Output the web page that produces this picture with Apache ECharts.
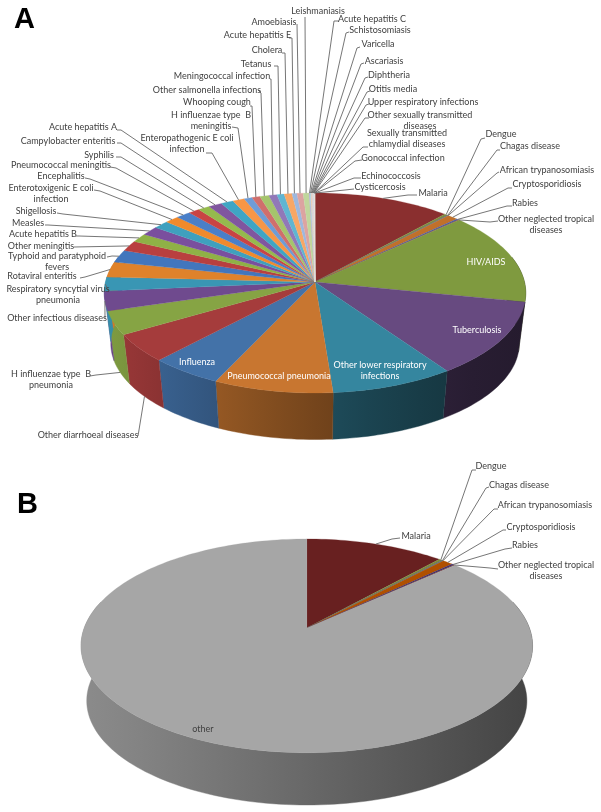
<!DOCTYPE html>
<html lang="en">
<head>
    <meta charset="UTF-8">
    <title>Infectious disease burden</title>
    <script src="https://cdn.jsdelivr.net/npm/echarts@6/dist/echarts.min.js"></script>
    <style>
        html, body { margin: 0; padding: 0; background: #fff; }
        #main { width: 601px; height: 812px; }
    </style>
</head>
<body>
<div id="main"></div>
<script>
    // shares of the pie, clockwise from 12 o'clock
    var namesA = ['Malaria', 'Dengue', 'Chagas disease', 'African trypanosomiasis', 'Cryptosporidiosis', 'Rabies',
        'Other neglected tropical\ndiseases', 'HIV/AIDS', 'Tuberculosis', 'Other lower respiratory\ninfections',
        'Pneumococcal pneumonia', 'Influenza', 'Other diarrhoeal diseases', 'H influenzae type  B\npneumonia',
        'Other infectious diseases', 'Respiratory syncytial virus\npneumonia', 'Rotaviral enteritis',
        'Typhoid and paratyphoid\nfevers', 'Other meningitis', 'Acute hepatitis B', 'Measles', 'Shigellosis',
        'Enterotoxigenic E coli\ninfection', 'Encephalitis', 'Pneumococcal meningitis', 'Syphilis',
        'Campylobacter enteritis', 'Acute hepatitis A', 'Enteropathogenic E coli\ninfection',
        'H influenzae type  B\nmeningitis', 'Whooping cough', 'Other salmonella infections',
        'Meningococcal infection', 'Tetanus', 'Cholera', 'Acute hepatitis E', 'Amoebiasis', 'Leishmaniasis',
        'Acute hepatitis C', 'Schistosomiasis', 'Varicella', 'Ascariasis', 'Diphtheria', 'Otitis media',
        'Upper respiratory infections', 'Other sexually transmitted\ndiseases',
        'Sexually transmitted\nchlamydial diseases', 'Gonococcal infection', 'Echinococcosis', 'Cysticercosis'];
    var valuesA = [11.67, 0.3, 0.05, 0.05, 0.9, 0.2, 0.08, 14.9, 12.1, 8.5, 8.25, 5, 4.55, 3.83, 3.14, 2.25, 2.5, 2.06,
        1.69, 1.44, 1.47, 1.33, 1.19, 1.25, 0.95, 1, 1.17, 1.06, 1, 0.69, 0.69, 0.78, 0.69, 0.61, 0.67, 0.42, 0.53, 0.5,
        0.08, 0.08, 0.06, 0.05, 0.05, 0.04, 0.04, 0.03, 0.03, 0.02, 0.01, 0.01];

    var namesB = ['Malaria', 'Dengue', 'Chagas disease', 'African trypanosomiasis', 'Cryptosporidiosis', 'Rabies',
        'Other neglected tropical\ndiseases', 'other'];
    var valuesB = [11.67, 0.3, 0.05, 0.05, 0.9, 0.2, 0.08, 86.75];

    var colorsA = ['#8a2f2f', '#7d8f40', '#66497f', '#3f8aa3', '#c0702a', '#4a5f9f', '#8a4040', '#7f9a3f', '#674a80',
        '#35869f', '#c87630', '#4372a8', '#a53c3c', '#86a444', '#6f4a8e', '#3996b4', '#df822b', '#4276bd', '#b93f3f',
        '#8fb146', '#7a4f9e', '#3fa0be', '#f08a2c', '#4a7fc8', '#c94444', '#95ba4d', '#80569f', '#3fa5c4', '#f79646',
        '#6e9cd6', '#d06e6c', '#a5c46c', '#9178b8', '#5fb5d2', '#f8a765', '#9db8de', '#dca3a1', '#c0d69c', '#b7abd0',
        '#a6d3e2', '#fbc69c', '#c4d3ea', '#e8c8c8', '#d9e4c8', '#d2cbe0', '#cfe4ec', '#fbdcc6', '#dce3ef', '#ede0df',
        '#dde3d4'];
    var colorsB = ['#682020', '#7d8a3c', '#5a4a7a', '#3f7a90', '#b05000', '#3c2d6e', '#6a3030', '#a6a6a6'];

    // pie geometry: perspective ellipse for the top face and for the base
    var geomA = { cx: 315, top: { y: 282, ax: 209.5, ay: 98.8 }, base: { y: 333, ax: 203, ay: 94.8 }, k: 0.11, shadeL: 0.95, shadeR: 0.36, gamma: 1.4 };
    var geomB = { cx: 306.8, top: { y: 628, ax: 222.6, ay: 103.9 }, base: { y: 683.4, ax: 217, ay: 101.3 }, k: 0.167, shadeL: 0.84, shadeR: 0.41, gamma: 1 };

    // label centre, leader from the text to the slice (the last point comes from the slice itself)
    var labelsA = [
        { at: [433, 193], lead: [[417, 195], [408, 195]] },
        { at: [501, 134], lead: [[485, 138], [481, 139]] },
        { at: [530, 146], lead: [[500, 150], [497, 150]] },
        { at: [547, 170], lead: [[499, 172], [497, 173]] },
        { at: [547, 184], lead: [[512, 188], [508, 188]] },
        { at: [525, 203], lead: [[512, 206], [507, 206]] },
        { at: [546, 225], lead: [[498, 221], [490, 222]] },
        { at: [486, 262], white: true },
        { at: [477, 330], white: true },
        { at: [380, 371], white: true },
        { at: [279, 376], white: true },
        { at: [197, 362], white: true },
        { at: [88, 435], lead: [[138, 436]], base: true },
        { at: [51, 380], lead: [[90, 376], [96, 375]], base: true },
        { at: [57, 318], lead: [[105, 318]] },
        { at: [58, 295], lead: [[109, 291]] },
        { at: [42, 276], lead: [[80, 278], [85, 277]] },
        { at: [57, 262], lead: [[107, 257], [112, 256]] },
        { at: [41, 246], lead: [[74, 247]] },
        { at: [43, 234], lead: [[76, 236], [79, 236]] },
        { at: [28, 223], lead: [[45, 225], [48, 225]] },
        { at: [36, 211], lead: [[57, 213], [63, 214]] },
        { at: [51, 194], lead: [[94, 190], [100, 191]] },
        { at: [61, 176], lead: [[85, 178], [90, 179]] },
        { at: [61, 165], lead: [[110, 167], [116, 168]] },
        { at: [99, 155], lead: [[116, 157], [121, 157]] },
        { at: [68, 141], lead: [[117, 143], [121, 143]] },
        { at: [83, 127], lead: [[117, 130], [121, 130]] },
        { at: [187, 144], lead: [[206, 153], [212, 153]] },
        { at: [211, 121], lead: [[232, 127], [238, 128]] },
        { at: [217, 102], lead: [[250, 106], [252, 106]] },
        { at: [207, 90], lead: [[258, 90], [261, 93]] },
        { at: [222, 76.5], lead: [[270, 79], [271, 79]] },
        { at: [256, 64], lead: [[274, 66], [278, 66]] },
        { at: [267, 50], lead: [[282, 53], [285, 53]] },
        { at: [257.5, 35], lead: [[289, 38], [292, 38]] },
        { at: [274, 22], lead: [[297, 24]] },
        { at: [318, 11], lead: [[305, 17]] },
        { at: [372, 19], lead: [[339, 21], [334, 21]] },
        { at: [380, 30], lead: [[349, 32], [346, 33]] },
        { at: [378, 44.5], lead: [[360, 47], [357, 48]] },
        { at: [384, 61], lead: [[364, 63], [361, 64]] },
        { at: [389, 75], lead: [[368, 77], [365, 78]] },
        { at: [393, 89], lead: [[370, 91], [367, 92]] },
        { at: [423, 102], lead: [[369, 104], [366, 105]] },
        { at: [420, 120.5], lead: [[369, 118], [365, 118]] },
        { at: [407, 138.5], lead: [[368, 147], [363, 147]] },
        { at: [403, 158], lead: [[362, 160], [355, 161]] },
        { at: [391, 176], lead: [[361, 178], [354, 178]] },
        { at: [380, 187], lead: [[354, 189], [345, 190]] }
    ];
    var labelsB = [
        { at: [416, 536], lead: [[400, 538], [392, 539]] },
        { at: [491, 466], lead: [[476, 470], [472, 470]] },
        { at: [519, 485], lead: [[489, 487], [486, 488]] },
        { at: [545, 505], lead: [[498, 509], [494, 509]] },
        { at: [541, 527], lead: [[506, 530], [503, 530]] },
        { at: [525, 545], lead: [[512, 548], [505, 549]] },
        { at: [546, 571], lead: [[498, 569], [490, 568]] },
        { at: [203, 729] }
    ];

    var TEXT_COLOR = '#404040';
    var LEAD_COLOR = '#666666';
    var LABEL_FONT = '9px Lato';

    function sliceAngles(values) {
        var total = values.reduce(function (a, b) { return a + b; }, 0);
        var run = 0;
        return values.map(function (v) {
            var s = run / total * 360;
            run += v;
            return [s, run / total * 360];
        });
    }

    // clockwise degrees from 12 o'clock -> pixel on the top face or the base
    function project(g, plane, deg) {
        var t = deg * Math.PI / 180;
        var w = 1 + g.k * Math.cos(t);
        return [g.cx + plane.ax * Math.sin(t) / w, plane.y - plane.ay * Math.cos(t) / w];
    }

    function shade(hex, f) {
        var n = parseInt(hex.slice(1), 16);
        var r = Math.round((n >> 16 & 255) * f);
        var gr = Math.round((n >> 8 & 255) * f);
        var b = Math.round((n & 255) * f);
        return 'rgb(' + r + ',' + gr + ',' + b + ')';
    }

    function arc(g, plane, s, e) {
        var pts = [];
        var n = Math.max(1, Math.ceil((e - s) / 1.5));
        for (var i = 0; i <= n; i++) pts.push(project(g, plane, s + (e - s) * i / n));
        return pts;
    }

    // left to right shading of the wall, in page pixels so it runs on across slices
    function wallFill(g, color) {
        var stops = [];
        for (var i = 0; i <= 8; i++) {
            var f = g.shadeR + (g.shadeL - g.shadeR) * Math.pow(1 - i / 8, g.gamma);
            stops.push({ offset: i / 8, color: shade(color, f) });
        }
        return new echarts.graphic.LinearGradient(g.cx - g.top.ax, 0, g.cx + g.top.ax, 0, stops, true);
    }

    function sideSeries(g, values, colors) {
        var angles = sliceAngles(values);
        return {
            type: 'custom', coordinateSystem: 'none', silent: true, z: 1, data: values,
            renderItem: function (params) {
                var i = params.dataIndex;
                var s = Math.max(angles[i][0], 75), e = Math.min(angles[i][1], 285);
                if (e <= s) return { type: 'group', children: [] };
                var pts = arc(g, g.top, s, e).concat(arc(g, g.base, s, e).reverse());
                var fill = wallFill(g, colors[i]);
                return {
                    type: 'polygon',
                    shape: { points: pts },
                    style: { fill: fill, stroke: fill, lineWidth: 0.4 }
                };
            }
        };
    }

    function topSeries(g, values, colors) {
        var angles = sliceAngles(values);
        return {
            type: 'custom', coordinateSystem: 'none', silent: true, z: 2, data: values,
            renderItem: function (params) {
                var i = params.dataIndex;
                var pts = [[g.cx, g.top.y]].concat(arc(g, g.top, angles[i][0], angles[i][1]));
                return {
                    type: 'polygon',
                    shape: { points: pts },
                    style: { fill: colors[i], stroke: colors[i], lineWidth: 0.25 }
                };
            }
        };
    }

    function labelSeries(g, values, names, labels) {
        var angles = sliceAngles(values);
        return {
            type: 'custom', coordinateSystem: 'none', silent: true, z: 3, data: values,
            renderItem: function (params) {
                var i = params.dataIndex, lab = labels[i];
                var kids = [];
                if (lab.lead) {
                    var mid = (angles[i][0] + angles[i][1]) / 2;
                    var end = project(g, lab.base ? g.base : g.top, mid);
                    kids.push({
                        type: 'polyline',
                        shape: { points: lab.lead.concat([end]) },
                        style: { fill: 'none', stroke: LEAD_COLOR, lineWidth: 0.9 }
                    });
                }
                kids.push({
                    type: 'text',
                    style: {
                        text: names[i], x: lab.at[0], y: lab.at[1], align: 'center', verticalAlign: 'middle',
                        font: LABEL_FONT, lineHeight: 11, fill: lab.white ? '#ffffff' : TEXT_COLOR
                    }
                });
                return { type: 'group', children: kids };
            }
        };
    }

    var myChart = echarts.init(document.getElementById('main'));
    var option = {
        backgroundColor: '#ffffff',
        animation: false,
        graphic: [
            { type: 'text', left: 14, top: 5, style: { text: 'A', font: 'bold 29px "Liberation Sans"', fill: '#000' } },
            { type: 'text', left: 17, top: 490, style: { text: 'B', font: 'bold 29px "Liberation Sans"', fill: '#000' } }
        ],
        series: [
            sideSeries(geomA, valuesA, colorsA),
            topSeries(geomA, valuesA, colorsA),
            labelSeries(geomA, valuesA, namesA, labelsA),
            sideSeries(geomB, valuesB, colorsB),
            topSeries(geomB, valuesB, colorsB),
            labelSeries(geomB, valuesB, namesB, labelsB)
        ]
    };
    myChart.setOption(option);
</script>
</body>
</html>
